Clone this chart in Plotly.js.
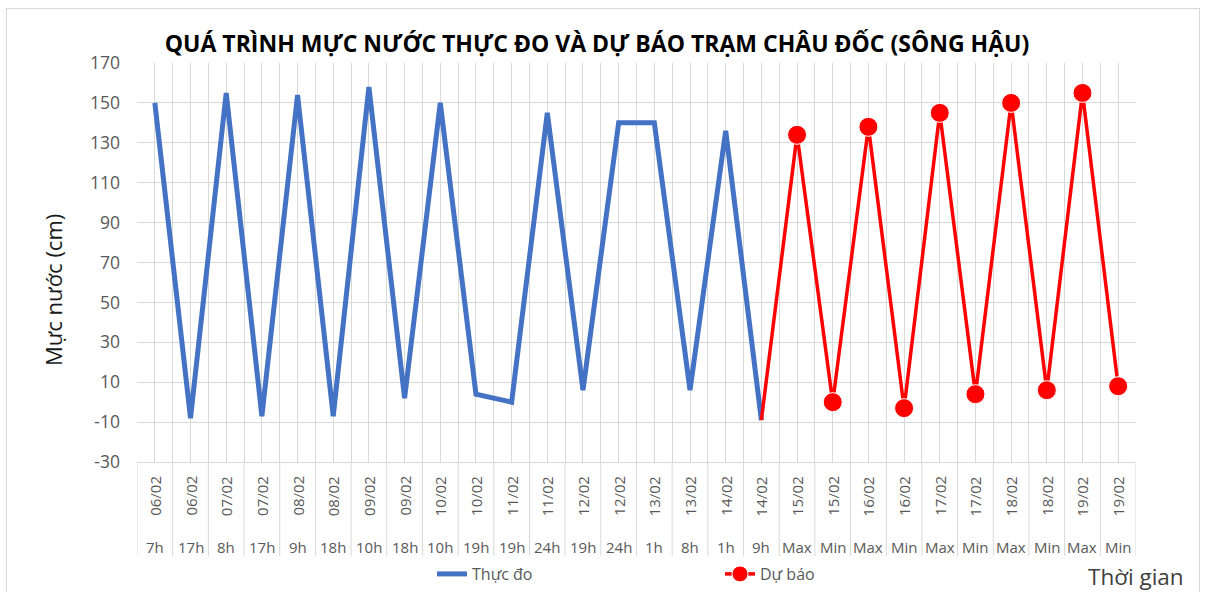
<!DOCTYPE html>
<html>
<head>
<meta charset="utf-8">
<script src="https://cdn.plot.ly/plotly-3.0.1.min.js"></script>
<style>
  html, body { margin: 0; padding: 0; background: #ffffff; }
  #wrap { position: relative; width: 1206px; height: 592px; overflow: hidden; }
  #chart { position: absolute; left: 0; top: 0; width: 1206px; height: 592px; }
  #frame { position: absolute; left: 6px; top: 8px; width: 1192px; height: 590px; border: 1px solid #D9D9D9; pointer-events: none; }
</style>
</head>
<body>
<div id="wrap"><div id="chart"></div><div id="frame"></div></div>
<script>
// ---- data ----
const dates = ["06/02","06/02","07/02","07/02","08/02","08/02","09/02","09/02","10/02","10/02",
               "11/02","11/02","12/02","12/02","13/02","13/02","14/02","14/02",
               "15/02","15/02","16/02","16/02","17/02","17/02","18/02","18/02","19/02","19/02"];
const hours = ["7h","17h","8h","17h","9h","18h","10h","18h","10h","19h",
               "19h","24h","19h","24h","1h","8h","1h","9h",
               "Max","Min","Max","Min","Max","Min","Max","Min","Max","Min"];
const actual   = [150, -8, 155, -7, 154, -7, 158, 2, 150, 4, 0, 145, 6, 140, 140, 6, 136, -9];
const forecast = [134, 0, 138, -3, 145, 4, 150, 6, 155, 8];
const seriesNames = ["Thực đo", "Dự báo"];
const yTickVals = [-30, -10, 10, 30, 50, 70, 90, 110, 130, 150, 170];
const yTickText = ["-30", "-10", "10", "30", "50", "70", "90", "110", "130", "150", "170"];

// ---- build ----
const idx = dates.map((d, i) => i);
const xActual = idx.slice(0, actual.length);
const lastA = actual.length - 1;
const xFore = [lastA].concat(idx.slice(actual.length, actual.length + forecast.length));
const yFore = [actual[lastA]].concat(forecast);
const foreSizes = yFore.map((v, i) => i === 0 ? 0 : 19);

// pixel helpers for the plot frame
const W = 1206, H = 592;
const L = 137, R = 1136, T = 63, B = 462;
const ph = B - T;
const py = p => (B - p) / ph;      // pixel y -> paper y
const px = p => (p - L) / (R - L); // pixel x -> paper x
const FONT = 'Open Sans, sans-serif';

const traces = [
  { x: xActual, y: actual, type: 'scatter', mode: 'lines', name: seriesNames[0],
    line: { color: '#4472C4', width: 5 } },
  { x: xFore, y: yFore, type: 'scatter', mode: 'lines+markers', name: seriesNames[1],
    line: { color: '#FF0000', width: 3.5 },
    marker: { color: '#FF0000', size: foreSizes, opacity: 1 } }
];

const annotations = [];
const shapes = [];
dates.forEach((d, i) => {
  annotations.push({ x: i, xref: 'x', y: py(496), yref: 'paper', text: d, showarrow: false,
    textangle: -90, xanchor: 'center', yanchor: 'middle',
    font: { family: FONT, size: 15, color: '#595959' } });
  annotations.push({ x: i, xref: 'x', y: py(547), yref: 'paper', text: hours[i], showarrow: false,
    xanchor: 'center', yanchor: 'middle',
    font: { family: FONT, size: 15, color: '#595959' } });
});
for (let i = 0; i <= dates.length; i++) {
  shapes.push({ type: 'line', xref: 'x', yref: 'paper', x0: i - 0.5, x1: i - 0.5,
    y0: 0, y1: py(556), line: { color: '#D9D9D9', width: 1 } });
}
annotations.push({ xref: 'paper', yref: 'paper', x: px(1186), y: py(576), xanchor: 'right', yanchor: 'middle',
  text: 'Thời gian', showarrow: false, font: { family: FONT, size: 22.5, color: '#404040' } });
annotations.push({ xref: 'paper', yref: 'paper', x: px(53), y: py(290), xanchor: 'center', yanchor: 'middle',
  textangle: -90, text: 'Mực nước (cm)', showarrow: false, font: { family: FONT, size: 22, color: '#1a1a1a' } });

const layout = {
  width: W, height: H,
  paper_bgcolor: 'rgba(0,0,0,0)', plot_bgcolor: '#ffffff',
  margin: { l: L, r: W - R, t: T, b: H - B, autoexpand: false },
  title: { text: '<b>QUÁ TRÌNH MỰC NƯỚC THỰC ĐO VÀ DỰ BÁO TRẠM CHÂU ĐỐC (SÔNG HẬU)</b>',
    xref: 'container', x: 597 / W, xanchor: 'center', yref: 'container', y: 1 - 44 / H, yanchor: 'middle',
    font: { family: FONT, size: 23, color: '#000000' } },
  xaxis: {
    range: [-0.5, dates.length - 0.5], showticklabels: false, ticks: '',
    tickmode: 'linear', tick0: 0, dtick: 1,
    showgrid: true, gridcolor: '#D9D9D9', gridwidth: 1,
    minor: { tickmode: 'linear', tick0: 0.5, dtick: 1, showgrid: true, gridcolor: '#D9D9D9', gridwidth: 1 },
    zeroline: false, showline: true, linecolor: '#D9D9D9', linewidth: 1, fixedrange: true, automargin: false
  },
  yaxis: {
    range: [-30, 170], tickmode: 'array', tickvals: yTickVals, ticktext: yTickText,
    showgrid: true, gridcolor: '#D9D9D9', gridwidth: 1, zeroline: false, showline: false,
    ticks: '', ticklabelstandoff: 16,
    tickfont: { family: FONT, size: 17.5, color: '#595959' },
    automargin: false, fixedrange: true
  },
  showlegend: true,
  legend: { orientation: 'h', x: px(432), xanchor: 'left', y: py(574), yanchor: 'middle',
    entrywidth: 243, entrywidthmode: 'pixels',
    font: { family: FONT, size: 16, color: '#595959' }, bgcolor: 'rgba(0,0,0,0)' },
  annotations: annotations,
  shapes: shapes,
  hovermode: false
};

Plotly.newPlot('chart', traces, layout, { displayModeBar: false, staticPlot: true });
</script>
</body>
</html>
